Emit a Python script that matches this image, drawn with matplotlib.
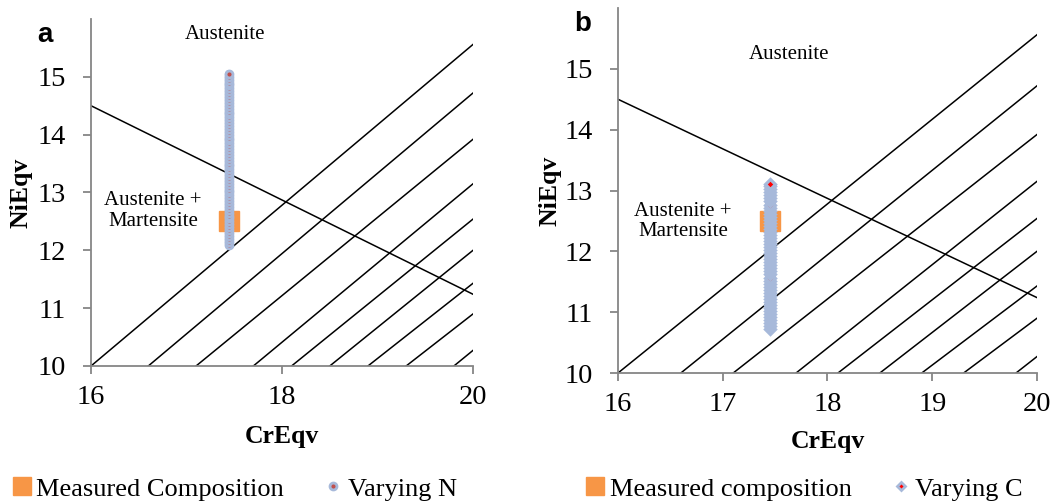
import matplotlib
matplotlib.use("Agg")
import matplotlib.pyplot as plt
from matplotlib.lines import Line2D

# ---------------- data ----------------
# diagonal boundary lines: start CrEqv on NiEqv=10, NiEqv where they reach CrEqv=20
diag_x_start = [16.0, 16.6, 17.1, 17.7, 18.1, 18.5, 18.9, 19.3, 19.8]
diag_y_end = [15.56, 14.72, 13.92, 13.15, 12.54, 12.0, 11.43, 10.9, 10.27]
# decreasing boundary line
dec_x = [16.0, 20.0]
dec_y = [14.5, 11.24]

# panel a
measured_a_x = [17.45]
measured_a_y = [12.5]
varyN_x = 17.45
varyN_y = [12.10, 12.15, 12.20, 12.25, 12.30, 12.35, 12.40, 12.45, 12.50, 12.55,
           12.60, 12.65, 12.70, 12.75, 12.80, 12.85, 12.90, 12.95, 13.00, 13.05,
           13.10, 13.15, 13.20, 13.25, 13.30, 13.35, 13.40, 13.45, 13.50, 13.55,
           13.60, 13.65, 13.70, 13.75, 13.80, 13.85, 13.90, 13.95, 14.00, 14.05,
           14.10, 14.15, 14.20, 14.25, 14.30, 14.35, 14.40, 14.45, 14.50, 14.55,
           14.60, 14.65, 14.70, 14.75, 14.80, 14.85, 14.90, 14.95, 15.00, 15.05]

# panel b
measured_b_x = [17.45]
measured_b_y = [12.5]
varyC_x = 17.45
varyC_y = [10.72, 10.77, 10.82, 10.87, 10.92, 10.97, 11.02, 11.07, 11.12, 11.17,
           11.22, 11.27, 11.32, 11.37, 11.42, 11.47, 11.52, 11.57, 11.62, 11.67,
           11.72, 11.77, 11.82, 11.87, 11.92, 11.97, 12.02, 12.07, 12.12, 12.17,
           12.22, 12.27, 12.32, 12.37, 12.42, 12.47, 12.52, 12.57, 12.62, 12.67,
           12.72, 12.77, 12.82, 12.87, 12.92, 12.97, 13.02, 13.07, 13.10]

xticks_a = [16, 18, 20]
xticks_b = [16, 17, 18, 19, 20]
yticks = [10, 11, 12, 13, 14, 15]

# ---------------- style ----------------
SERIF = "Liberation Serif"
ORANGE = "#F79646"
BLUE = "#A7B9DA"
SPINE = "#868686"

fig = plt.figure(figsize=(10.62, 5.03), dpi=100)

def setup(ax, xticks):
    ax.set_xlim(16, 20)
    ax.set_ylim(10, 16)
    ax.set_xticks(xticks)
    ax.set_yticks(yticks)
    for s in ["top", "right"]:
        ax.spines[s].set_visible(False)
    for s in ["left", "bottom"]:
        ax.spines[s].set_color(SPINE)
        ax.spines[s].set_linewidth(1.3)
    ax.tick_params(axis="both", direction="out", length=6, width=1.3, color=SPINE,
                   labelsize=20.5)
    ax.tick_params(axis="y", pad=12)
    ax.tick_params(axis="x", pad=8)
    for lab in ax.get_xticklabels() + ax.get_yticklabels():
        lab.set_fontfamily(SERIF)
    ax.set_xlabel("CrEqv", fontfamily=SERIF, fontweight="bold", fontsize=18.5)
    ax.set_ylabel("NiEqv", fontfamily=SERIF, fontweight="bold", fontsize=18.5)

def lines(ax):
    for x0, y1 in zip(diag_x_start, diag_y_end):
        ax.plot([x0, 20.0], [10.0, y1], color="black", lw=1.1, zorder=2)
    ax.plot(dec_x, dec_y, color="black", lw=1.1, zorder=2)

# ---- panel a ----
axa = fig.add_axes([0.0857, 0.2724, 0.3597, 0.6899])
setup(axa, xticks_a)
lines(axa)
axa.plot(measured_a_x, measured_a_y, "s", color=ORANGE, ms=14, zorder=3)
axa.plot([varyN_x] * len(varyN_y), varyN_y, "-", color=BLUE, lw=6.0,
         solid_capstyle="round", zorder=4)
axa.plot([varyN_x] * len(varyN_y), varyN_y, "o", ls="none", mfc="#C0504D", mec=BLUE,
         ms=5.0, mew=2.0, zorder=5)
axa.yaxis.set_label_coords(-0.154, 0.5)
axa.xaxis.set_label_coords(0.5, -0.17)
axa.text(17.4, 15.73, "Austenite", fontfamily=SERIF, fontsize=15, ha="center", va="center")
axa.text(16.65, 12.68, "Austenite +\nMartensite", fontfamily=SERIF, fontsize=15,
         ha="center", va="center", linespacing=1.1)
fig.text(0.042, 0.93, "a", fontfamily="Liberation Sans", fontweight="bold", fontsize=20,
         ha="center", va="center")

# ---- panel b ----
axb = fig.add_axes([0.5819, 0.2584, 0.3945, 0.7257])
setup(axb, xticks_b)
lines(axb)
axb.plot(measured_b_x, measured_b_y, "s", color=ORANGE, ms=14, zorder=3)
axb.plot([varyC_x] * len(varyC_y), varyC_y, "-", color=BLUE, lw=8.0,
         solid_capstyle="butt", zorder=4)
axb.plot([varyC_x] * len(varyC_y), varyC_y, "D", ls="none", mfc="red", mec=BLUE,
         ms=5.0, mew=2.3, zorder=5)
axb.yaxis.set_label_coords(-0.134, 0.5)
axb.xaxis.set_label_coords(0.5, -0.155)
axb.text(17.63, 15.24, "Austenite", fontfamily=SERIF, fontsize=15, ha="center", va="center")
axb.text(16.62, 12.49, "Austenite +\nMartensite", fontfamily=SERIF, fontsize=15,
         ha="center", va="center", linespacing=1.1)
fig.text(0.549, 0.953, "b", fontfamily="Liberation Sans", fontweight="bold", fontsize=20,
         ha="center", va="center")

# ---- legends ----
def legend(x, label1, label2, marker2, face2, ms2):
    h1 = Line2D([], [], marker="s", ls="none", color=ORANGE, ms=12.5)
    h2 = Line2D([], [], marker=marker2, ls="none", mfc=face2, mec=BLUE, ms=ms2, mew=2)
    fig.legend([h1, h2], [label1, label2], loc="center left", bbox_to_anchor=(x, 0.028),
               ncol=2, frameon=False, borderpad=0, borderaxespad=0,
               handlelength=0.7, handletextpad=0.2, columnspacing=1.5,
               prop={"family": SERIF, "size": 19})

legend(0.012, "Measured Composition", "Varying N", "o", "#C0504D", 5)
legend(0.552, "Measured composition", "Varying C", "D", "red", 4.5)

fig.savefig("out.png", dpi=100)
